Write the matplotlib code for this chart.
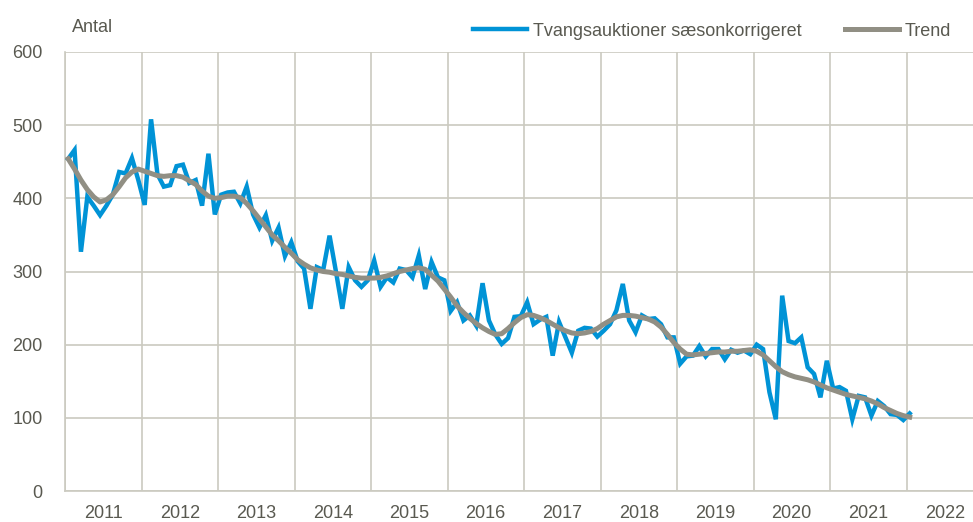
import numpy as np
import matplotlib
matplotlib.use("Agg")
import matplotlib.pyplot as plt

# monthly values, Jan 2011 - Jan 2022
saeson = [454, 466, 327, 402, 390, 377, 390, 405, 436, 434, 455, 425,
          391, 508, 433, 416, 418, 444, 446, 421, 425, 390, 461, 378,
          405, 408, 409, 393, 416, 378, 360, 377, 342, 360, 321, 340,
          314, 304, 249, 306, 302, 349, 300, 249, 306, 288, 279, 288,
          315, 279, 292, 285, 304, 302, 292, 322, 276, 313, 292, 288,
          246, 258, 233, 240, 226, 284, 233, 214, 201, 209, 238, 239,
          258, 228, 234, 238, 185, 231, 210, 189, 219, 223, 222, 211,
          219, 228, 247, 283, 233, 217, 240, 235, 236, 228, 210, 210,
          174, 184, 185, 198, 184, 194, 194, 180, 193, 189, 192, 187,
          200, 194, 135, 98, 267, 205, 202, 210, 169, 160, 128, 178,
          140, 142, 137, 98, 130, 128, 103, 123, 116, 105, 104, 97,
          106]
trend = [454, 440, 425, 412, 402, 395, 398, 405, 416, 428, 436, 440,
         437, 434, 431, 430, 431, 431, 429, 424, 419, 410, 403, 400,
         401, 403, 403, 401, 393, 383, 372, 361, 350, 342, 333, 325,
         316, 310, 305, 302, 300, 299, 297, 296, 294, 292, 291, 291,
         291, 292, 294, 297, 300, 302, 304, 305, 303, 295, 287, 276,
         265, 253, 244, 236, 229, 223, 218, 214, 215, 222, 230, 237,
         241, 240, 237, 233, 228, 223, 219, 216, 215, 216, 218, 222,
         228, 233, 238, 240, 240, 239, 237, 235, 231, 224, 214, 203,
         194, 187, 186, 187, 188, 189, 190, 190, 191, 191, 192, 193,
         191, 186, 178, 170, 163, 159, 156, 154, 152, 149, 145, 141,
         138, 135, 132, 130, 128, 126, 123, 119, 114, 110, 106, 103,
         101]
years = list(range(2011, 2023))

start_year = 2011
x = start_year + (np.arange(len(saeson)) + 0.5) / 12

blue = "#0093D6"
grey = "#918F84"
txt = "#595950"
gridc = "#CBCAC0"
plt.rcParams["font.family"] = ["Liberation Sans", "DejaVu Sans"]
fs = 13

fig = plt.figure(figsize=(9.73, 5.22), dpi=100)
ax = fig.add_axes([65 / 973, 31 / 522, 918 / 973, 439 / 522])

ax.plot(x, saeson, color=blue, lw=3.2, solid_joinstyle="miter",
        label="Tvangsauktioner sæsonkorrigeret", zorder=3)
ax.plot(x, trend, color=grey, lw=3.6, label="Trend", zorder=4)

ax.set_xlim(2011, 2023)
ax.set_ylim(0, 600)
ax.set_yticks(range(0, 601, 100))
ax.set_xticks(range(2011, 2024))
ax.set_xticklabels([])
ax.set_xticks([y + 0.5 for y in years], minor=True)
ax.set_xticklabels([str(y) for y in years], minor=True)
ax.tick_params(axis="x", which="both", length=0, pad=10, labelsize=fs, colors=txt)
ax.tick_params(axis="y", length=0, pad=16, labelsize=fs, colors=txt)
ax.grid(True, which="major", color=gridc, lw=1.2)
ax.set_axisbelow(True)
for s in ["top", "right"]:
    ax.spines[s].set_visible(False)
for s in ["left", "bottom"]:
    ax.spines[s].set_color(gridc)
    ax.spines[s].set_linewidth(1.2)

fig.text(72 / 973, 1 - 27 / 522, "Antal", fontsize=fs, color=txt, va="center", ha="left")
fig.legend(loc="center right", bbox_to_anchor=(958 / 973, 1 - 31 / 522), ncol=2,
           frameon=False, fontsize=fs, labelcolor=txt, handlelength=3.0,
           handletextpad=0.3, columnspacing=2.4, borderaxespad=0)

fig.savefig("out.png", dpi=100)
